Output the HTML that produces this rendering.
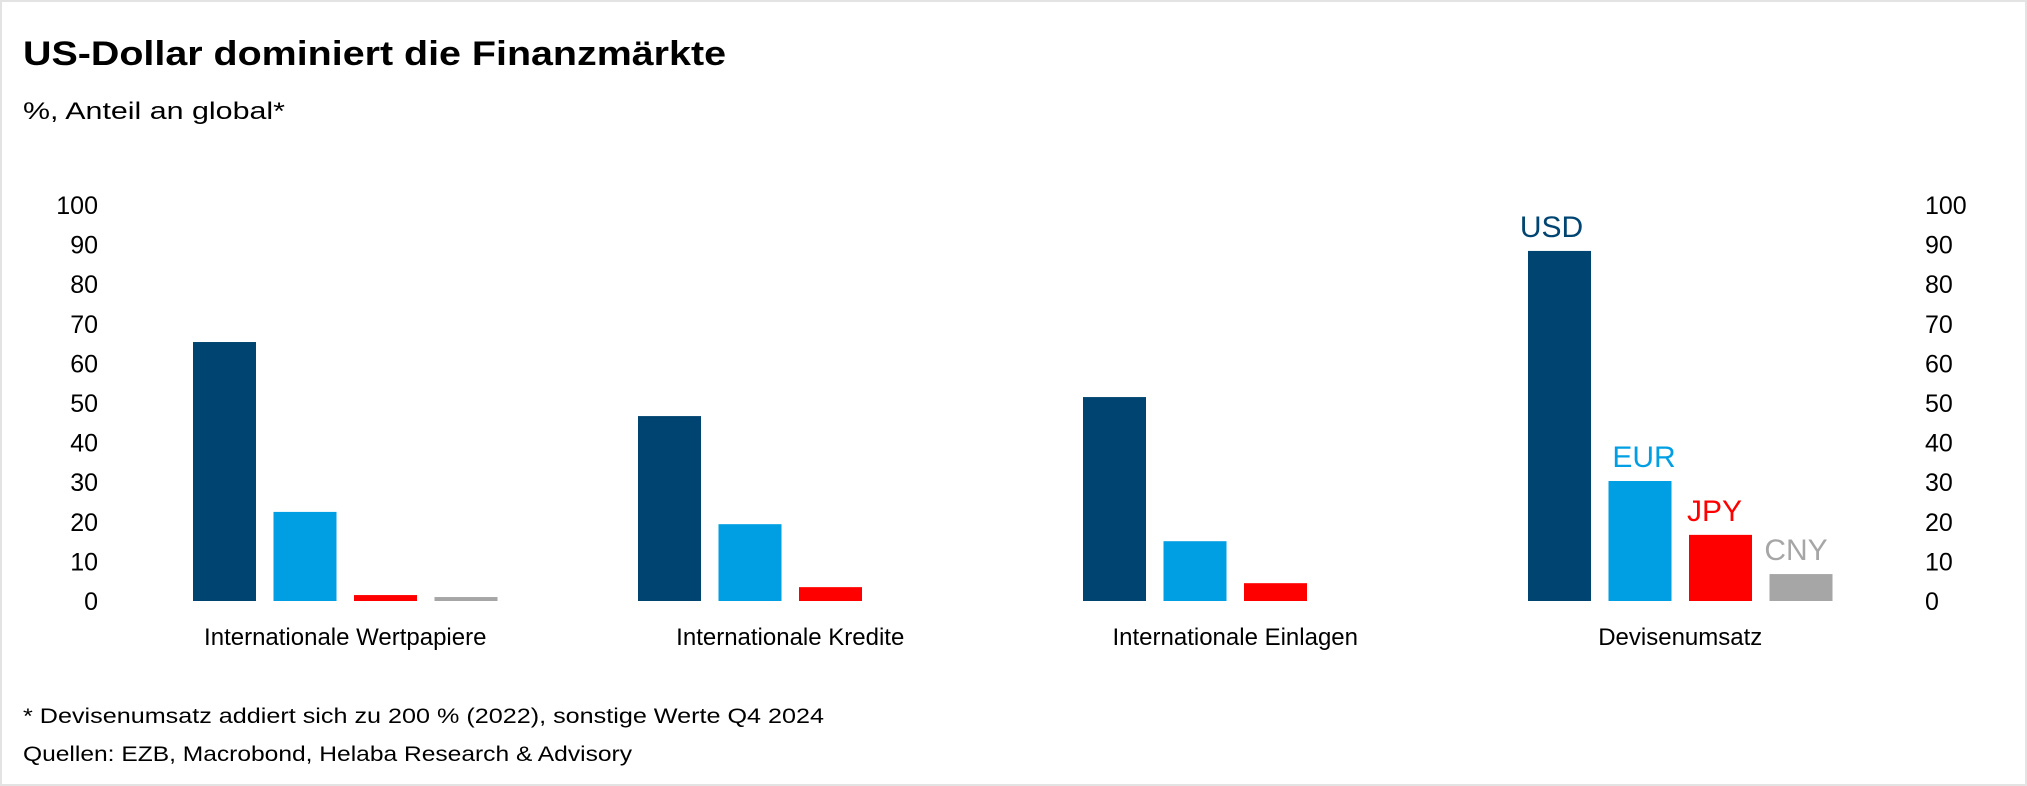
<!DOCTYPE html>
<html><head><meta charset="utf-8"><style>
html,body{margin:0;padding:0;background:#fff}
svg{display:block;font-family:"Liberation Sans",sans-serif}
</style></head><body>
<svg id="chart" width="2027" height="786" viewBox="0 0 2027 786">
<rect x="1" y="1" width="2025" height="784" fill="#fff" stroke="#e3e3e3" stroke-width="2"/>
<text x="23" y="65" font-size="34" font-weight="bold" textLength="703" lengthAdjust="spacingAndGlyphs">US-Dollar dominiert die Finanzmärkte</text>
<text x="23" y="119" font-size="24" textLength="262" lengthAdjust="spacingAndGlyphs">%, Anteil an global*</text>
<g id="left-axis"></g>
<g id="right-axis"></g>
<g id="bars"></g>
<g id="cats"></g>
<g id="serlabels"></g>
<text x="23" y="723" font-size="21" textLength="801" lengthAdjust="spacingAndGlyphs">* Devisenumsatz addiert sich zu 200 % (2022), sonstige Werte Q4 2024</text>
<text x="23" y="761" font-size="21" textLength="609" lengthAdjust="spacingAndGlyphs">Quellen: EZB, Macrobond, Helaba Research &amp; Advisory</text>
</svg>
<script>
const categories = ["Internationale Wertpapiere","Internationale Kredite","Internationale Einlagen","Devisenumsatz"];
const seriesNames = ["USD","EUR","JPY","CNY"];
const usd = [65.4, 46.7, 51.5, 88.4];
const eur = [22.5, 19.4, 15.1, 30.3];
const jpy = [1.5, 3.5, 4.5, 16.7];
const cny = [1.0, null, null, 6.8];
const ticks = [0,10,20,30,40,50,60,70,80,90,100];
const colors = ["#004571","#009fe3","#ff0000","#a6a6a6"];
const NS="http://www.w3.org/2000/svg";
const y0=601, y100=205;
function y(v){return y0-(v/100)*(y0-y100);}
const groupLeft=193, groupStep=445, barStep=80.5, barW=63;
function x(ci,si){return groupLeft+ci*groupStep+si*barStep;}
function mk(tag,attrs,parent){const e=document.createElementNS(NS,tag);for(const k in attrs)e.setAttribute(k,attrs[k]);parent.appendChild(e);return e;}
const la=document.getElementById('left-axis'), ra=document.getElementById('right-axis');
ticks.forEach(t=>{
  const a=mk('text',{x:98,y:y(t)+9,'font-size':25,'text-anchor':'end'},la);
  
  
  a.textContent=t;
  const b=mk('text',{x:1925,y:y(t)+9,'font-size':25},ra);
  
  
  b.textContent=t;
});
const series=[usd,eur,jpy,cny];
const bg=document.getElementById('bars');
series.forEach((s,si)=>{
  s.forEach((v,ci)=>{
    if(v==null)return;
    const r=mk('rect',{x:x(ci,si),y:y(v),width:barW,height:y(0)-y(v),fill:colors[si]},bg);
    
    
  });
});
const cg=document.getElementById('cats');
categories.forEach((c,ci)=>{
  const t=mk('text',{x:x(ci,0)+(3*barStep+barW)/2,y:645,'font-size':24,'text-anchor':'middle'},cg);
  
  
  t.textContent=c;
});
const sg=document.getElementById('serlabels');
const li=3;
const offs=[-8,4,-6,-5];
seriesNames.forEach((n,si)=>{
  const v=series[si][li];
  const t=mk('text',{x:x(li,si)+barW/2+offs[si],y:y(v)-14,'font-size':30,'text-anchor':'middle',fill:colors[si]},sg);
  
  
  t.textContent=n;
});
</script>
</body></html>
